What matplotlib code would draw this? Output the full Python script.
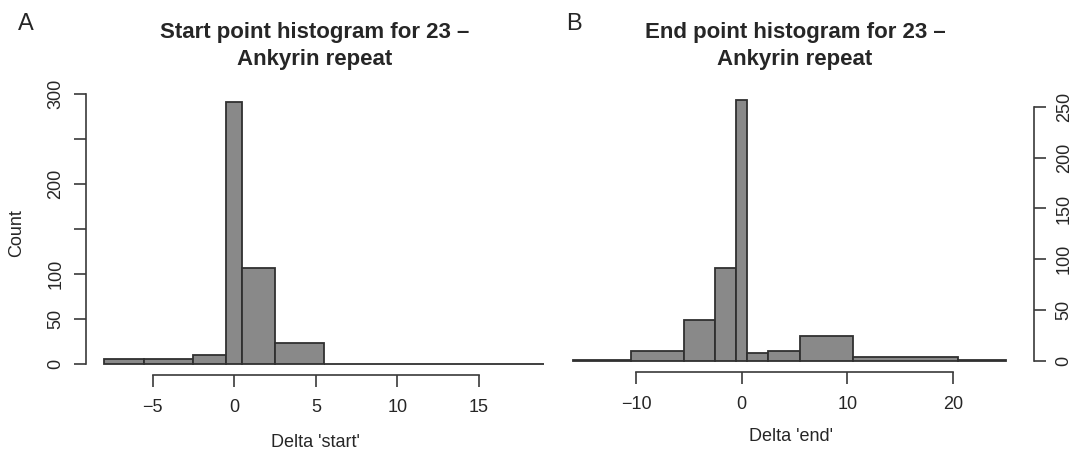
import numpy as np
import matplotlib
matplotlib.use("Agg")
import matplotlib.pyplot as plt

plt.rcParams['font.family'] = ['Liberation Sans', 'DejaVu Sans']

# bin edges and counts
start_edges = [-8, -5.5, -2.5, -0.5, 0.5, 2.5, 5.5, 19]
start_counts = [6, 6, 10, 291, 107, 23, 0]

end_edges = [-16, -10.5, -5.5, -2.5, -0.5, 0.5, 2.5, 5.5, 10.5, 20.5, 25]
end_counts = [1, 10, 40, 91, 257, 8, 10, 25, 4, 1]

start_xticks = [-5, 0, 5, 10, 15]
start_yticks = [0, 50, 100, 150, 200, 250, 300]
start_ylabels = ['0', '50', '100', '', '200', '', '300']
end_xticks = [-10, 0, 10, 20]
end_yticks = [0, 50, 100, 150, 200, 250]

bar_color = '#898989'
edge_color = '#303030'
txt = '#262626'
W, H = 1073, 451

fig = plt.figure(figsize=(W / 100, H / 100), dpi=100)


def px_axes(x0, x1, y0, y1):
    # pixel box (top-left origin) -> axes
    return fig.add_axes([x0 / W, 1 - y1 / H, (x1 - x0) / W, (y1 - y0) / H])


def style(ax, side, ypad):
    for s in ['top', 'right', 'left', 'bottom']:
        ax.spines[s].set_visible(False)
    ax.spines['bottom'].set_visible(True)
    ax.spines[side].set_visible(True)
    for s in ['bottom', side]:
        ax.spines[s].set_color('#3a3a3a')
        ax.spines[s].set_linewidth(1.2)
    ax.tick_params(direction='out', length=8.6, width=1.2, color='#3a3a3a',
                   labelsize=13, labelcolor=txt)
    ax.tick_params(axis='x', pad=9)
    ax.tick_params(axis='y', pad=ypad, labelrotation=90)
    for lab in ax.get_yticklabels():
        lab.set_va('center')


# ---- A: start ----
ax1 = px_axes(86, 562, 92, 374.5)
ax1.bar(start_edges[:-1], start_counts, width=np.diff(start_edges), align='edge',
        color=bar_color, edgecolor=edge_color, linewidth=1.3)
ax1.set_xlim(-9.08, 20.08)
ax1.set_ylim(-11.6, 302.6)
ax1.set_xticks(start_xticks)
ax1.set_yticks(start_yticks)
ax1.set_yticklabels(start_ylabels)
ax1.spines['bottom'].set_bounds(-5, 15)
ax1.spines['left'].set_bounds(0, 300)
style(ax1, 'left', 7)
ax1.set_xlabel("Delta 'start'", fontsize=13, color=txt, va='center')
ax1.xaxis.set_label_coords(0.481, -0.239)
ax1.set_ylabel("Count", fontsize=13, color=txt, va='center')
ax1.yaxis.set_label_coords((17 - 86) / 476, 0.5)

# ---- B: end ----
ax2 = px_axes(555, 1034, 89.2, 371.5)
ax2.bar(end_edges[:-1], end_counts, width=np.diff(end_edges), align='edge',
        color=bar_color, edgecolor=edge_color, linewidth=1.3)
ax2.set_xlim(-17.66, 27.65)
ax2.set_ylim(-10.3, 267.3)
ax2.set_xticks(end_xticks)
ax2.yaxis.tick_right()
ax2.set_yticks(end_yticks)
ax2.spines['bottom'].set_bounds(-10, 20)
ax2.spines['right'].set_bounds(0, 250)
style(ax2, 'right', 7)
ax2.set_xlabel("Delta 'end'", fontsize=13, color=txt, va='center')
ax2.xaxis.set_label_coords((791 - 555) / 479, -0.232)

# titles and panel letters
fig.text(315 / W, 1 - 46 / H, "Start point histogram for 23 \u2013\nAnkyrin repeat",
         ha='center', va='center', fontsize=16, fontweight='bold', color=txt,
         linespacing=1.35)
fig.text(795 / W, 1 - 46 / H, "End point histogram for 23 \u2013\nAnkyrin repeat",
         ha='center', va='center', fontsize=16, fontweight='bold', color=txt,
         linespacing=1.35)
fig.text(18 / W, 1 - 24 / H, "A", fontsize=17, color=txt, va='center')
fig.text(566 / W, 1 - 24 / H, "B", fontsize=17, color=txt, va='center')

fig.savefig("out.png", dpi=100)
